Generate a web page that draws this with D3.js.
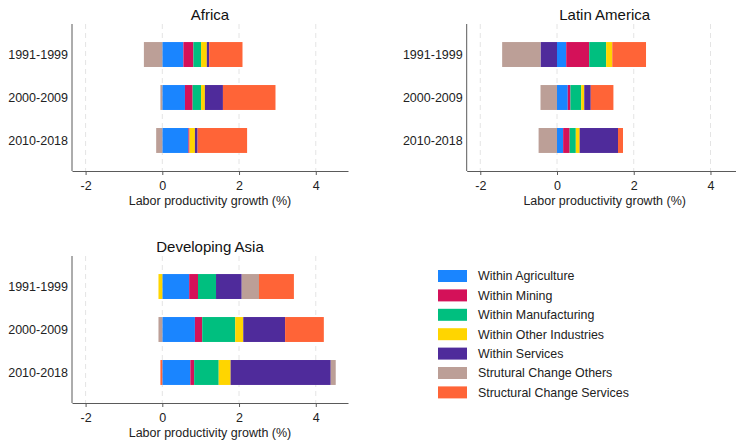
<!DOCTYPE html>
<html>
<head>
<meta charset="utf-8">
<script src="https://cdn.jsdelivr.net/npm/d3@7"></script>
<style>
  html, body { margin: 0; padding: 0; background: #fff; }
  svg { display: block; font-family: "Liberation Sans", Arial, sans-serif; }
</style>
</head>
<body>
<svg id="chart" width="736" height="441"></svg>
<script>
// Decomposition of labor productivity growth by period and region
const periods = ["1991-1999", "2000-2009", "2010-2018"];
const components = [
  "Within Agriculture",
  "Within Mining",
  "Within Manufacturing",
  "Within Other Industries",
  "Within Services",
  "Strutural Change Others",
  "Structural Change Services"
];
const componentColors = ["#1a85ff", "#d41159", "#00bf7f", "#ffd500", "#4f2b9b", "#bc9f97", "#ff6437"];
const xTicks = [-2, 0, 2, 4];

// one row per period, values in component order
const africaValues = [
  [0.55, 0.26, 0.20, 0.15, 0.06, -0.48, 0.87],
  [0.59, 0.20, 0.22, 0.10, 0.47, -0.05, 1.37],
  [0.68, 0.03, 0.00, 0.14, 0.07, -0.16, 1.29]
];
const latinAmericaValues = [
  [0.24, 0.60, 0.44, 0.16, -0.43, -1.00, 0.88],
  [0.28, 0.07, 0.28, 0.08, 0.17, -0.43, 0.59],
  [0.16, 0.17, 0.16, 0.10, 1.00, -0.48, 0.13]
];
const asiaValues = [
  [0.70, 0.23, 0.47, -0.10, 0.67, 0.45, 0.91],
  [0.85, 0.19, 0.86, 0.21, 1.09, -0.10, 1.01],
  [0.73, 0.10, 0.64, 0.31, 2.61, 0.13, -0.05]
];

const panels = [
  { title: "Africa", values: africaValues, x0: 72, y0: 24 },
  { title: "Latin America", values: latinAmericaValues, x0: 466.7, y0: 24 },
  { title: "Developing Asia", values: asiaValues, x0: 72, y0: 256 }
];

const plotW = 276, plotH = 147;
const xDomain = [-2.354, 4.84];
const svg = d3.select("#chart");
const color = d3.scaleOrdinal().domain(components).range(componentColors);

panels.forEach(p => {
  const g = svg.append("g").attr("transform", `translate(${p.x0},${p.y0})`);
  const x = d3.scaleLinear().domain(xDomain).range([0, plotW]);
  const y = d3.scaleBand().domain(periods).range([0, plotH]).paddingInner(0.42).paddingOuter(0.42);

  // dashed vertical gridlines
  g.append("g").selectAll("line").data(xTicks).join("line")
    .attr("x1", d => x(d)).attr("x2", d => x(d))
    .attr("y1", 0).attr("y2", plotH)
    .attr("stroke", "#e4e4e4").attr("stroke-width", 1)
    .attr("stroke-dasharray", "5,4");

  // stacked bars
  const rows = periods.map((per, i) => {
    const r = { period: per };
    components.forEach((c, j) => { r[c] = p.values[i][j]; });
    return r;
  });
  const series = d3.stack().keys(components).offset(d3.stackOffsetDiverging)(rows);
  g.append("g").selectAll("g").data(series).join("g")
    .attr("fill", d => color(d.key))
    .selectAll("rect").data(d => d).join("rect")
      .attr("x", d => x(Math.min(d[0], d[1])))
      .attr("width", d => Math.abs(x(d[1]) - x(d[0])))
      .attr("y", d => y(d.data.period))
      .attr("height", y.bandwidth());

  // x axis
  const xAxis = g.append("g").attr("transform", `translate(0,${plotH})`)
    .call(d3.axisBottom(x).tickValues(xTicks).tickSize(4).tickPadding(6).tickSizeOuter(0)
      .tickFormat(d3.format("d")));
  xAxis.select(".domain").attr("stroke", "#5a5a5a");
  xAxis.selectAll(".tick line").attr("stroke", "#5a5a5a");
  xAxis.selectAll(".tick text").attr("font-size", 12.5).attr("fill", "#222")
    .attr("font-family", "Liberation Sans, Arial, sans-serif")
    .text(d => d < 0 ? "-" + Math.abs(d) : d);

  // y axis
  g.append("line").attr("x1", 0).attr("x2", 0).attr("y1", 0).attr("y2", plotH)
    .attr("stroke", "#5a5a5a");
  g.append("g").selectAll("text").data(periods).join("text")
    .attr("x", -4).attr("y", d => y(d) + y.bandwidth() / 2).attr("dy", "0.35em")
    .attr("text-anchor", "end").attr("font-size", 12.5).attr("fill", "#222")
    .text(d => d);

  // titles
  g.append("text").attr("x", plotW / 2).attr("y", -4).attr("text-anchor", "middle")
    .attr("font-size", 15).attr("fill", "#111").text(p.title);
  g.append("text").attr("x", plotW / 2).attr("y", plotH + 34).attr("text-anchor", "middle")
    .attr("font-size", 12.5).attr("fill", "#222").text("Labor productivity growth (%)");
});

// legend
const legend = svg.append("g").attr("transform", "translate(438,270)");
const li = legend.selectAll("g").data(components).join("g")
  .attr("transform", (d, i) => `translate(0,${i * 19.4})`);
li.append("rect").attr("width", 29).attr("height", 12).attr("fill", d => color(d));
li.append("text").attr("x", 40).attr("y", 6).attr("dy", "0.35em")
  .attr("font-size", 12.4).attr("fill", "#222").text(d => d);
</script>
</body>
</html>
